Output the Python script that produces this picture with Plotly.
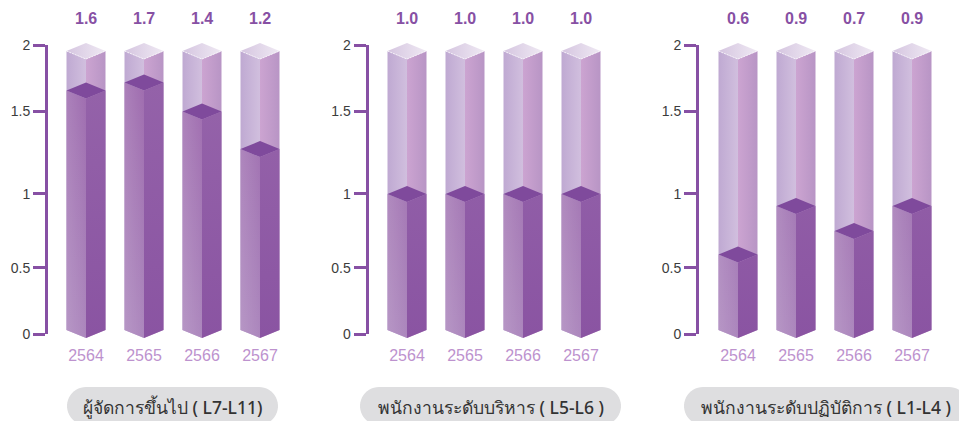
import plotly.graph_objects as go
import numpy as np

W, H = 959, 421
years = ["2564", "2565", "2566", "2567"]
panel_names = ["ผู้จัดการขึ้นไป ( L7-L11)", "พนักงานระดับบริหาร ( L5-L6 )", "พนักงานระดับปฏิบัติการ ( L1-L4 )"]
labels_a = ["1.6", "1.7", "1.4", "1.2"]
labels_b = ["1.0", "1.0", "1.0", "1.0"]
labels_c = ["0.6", "0.9", "0.7", "0.9"]
# heights as drawn against the axis (the picture's bars sit apart from their printed labels)
heights_a = [1.685, 1.74, 1.54, 1.28]
heights_b = [0.969, 0.969, 0.969, 0.969]
heights_c = [0.55, 0.885, 0.713, 0.885]
# the picture's axis is unevenly spaced: ticks sit at these heights
y_ticks = [0, 0.457, 0.969, 1.543, 2]
y_tick_text = ["0", "0.5", "1", "1.5", "2"]

PURPLE = "#8750A4"
GHOST_TOP = 1.958
BASE = 0.028
HALF_W = 19.5 / 58
DIA = 8 / 144.5
PX_PER_X = 58
PX_PER_Y = 144.5
PAD_BOTTOM, PAD_TOP = 12, 15  # room for the 3-D corners, which fills would otherwise clip
panels = [
    dict(labels=labels_a, h=heights_a, axis_px=48, first_px=86, pill=(67, 278)),
    dict(labels=labels_b, h=heights_b, axis_px=368.5, first_px=407, pill=(360, 621)),
    dict(labels=labels_c, h=heights_c, axis_px=699, first_px=738, pill=(684, 968)),
]


def mix(c1, c2, t):
    a = np.array([int(c1[i:i + 2], 16) for i in (1, 3, 5)])
    b = np.array([int(c2[i:i + 2], 16) for i in (1, 3, 5)])
    r = (a + (b - a) * t).round().astype(int)
    return f"rgb({r[0]},{r[1]},{r[2]})"


fig = go.Figure()


def poly(xs, ys, c0, c1, kind, ax):
    fig.add_trace(go.Scatter(
        x=xs + xs[:1], y=ys + ys[:1], mode="lines", fill="toself", line=dict(width=0),
        fillgradient=dict(type=kind, colorscale=[[0, c0], [1, c1]]),
        xaxis=ax[0], yaxis=ax[1], hoverinfo="skip", showlegend=False, cliponaxis=False))


for n, p in enumerate(panels):
    s = "" if n == 0 else str(n + 1)
    ax = ("x" + s, "y" + str(n + 4))
    # invisible trace that ties the visible axes together as a subplot
    fig.add_trace(go.Scatter(x=list(range(4)), y=p["h"], mode="markers", marker=dict(opacity=0),
                             xaxis="x" + s, yaxis="y" + s, hoverinfo="skip", showlegend=False))
    for i, v in enumerate(p["h"]):
        L, R = i - HALF_W, i + HALF_W
        t = GHOST_TOP
        # empty glass
        poly([L, i, i, L], [t, t - DIA, BASE - DIA, BASE], "#BFA9D2", "#D1BFDE", "horizontal", ax)
        poly([i, R, R, i], [t - DIA, t, BASE, BASE - DIA], "#CCA4D1", "#B895C5", "horizontal", ax)
        poly([L, i, R, i], [t, t + DIA, t, t - DIA], "#D5C5E0", "#EFE9F3", "horizontal", ax)
        fig.add_trace(go.Scatter(x=[L, i, R], y=[t, t - DIA, t], mode="lines",
                                 line=dict(color="rgba(255,255,255,0.65)", width=1, dash="2px,1px"),
                                 xaxis=ax[0], yaxis=ax[1], hoverinfo="skip", showlegend=False, cliponaxis=False))
        # filled part
        poly([L, i, i, L], [v, v - DIA, BASE - DIA, BASE],
             "#AC87BD", mix("#AC87BD", "#9F6DAF", min(v / 1.75, 1)), "vertical", ax)
        poly([L, i, i, L], [v, v - DIA, BASE - DIA, BASE],
             "rgba(255,255,255,0.13)", "rgba(255,255,255,0)", "horizontal", ax)
        poly([i, R, R, i], [v - DIA, v, BASE, BASE - DIA],
             "#8A54A2", mix("#8A54A2", "#9462A9", min(v / 1.5, 1)), "vertical", ax)
        fig.add_trace(go.Scatter(x=[L, i, R, i, L], y=[v, v + DIA, v, v - DIA, v], mode="lines", fill="toself",
                                 fillcolor="#7F4A9C", line=dict(width=0), xaxis=ax[0], yaxis=ax[1],
                                 hoverinfo="skip", showlegend=False, cliponaxis=False))

layout = dict(
    width=W, height=H, margin=dict(l=0, r=0, t=0, b=0, autoexpand=False), paper_bgcolor="white",
    plot_bgcolor="rgba(0,0,0,0)", showlegend=False, shapes=[], annotations=[])

for n, p in enumerate(panels):
    s = "" if n == 0 else str(n + 1)
    x_left = (p["axis_px"] - p["first_px"]) / PX_PER_X
    right_px = p["first_px"] + 3.5 * PX_PER_X
    layout["xaxis" + s] = dict(
        domain=[p["axis_px"] / W, right_px / W], range=[x_left, 3.5], tickvals=list(range(4)), ticktext=years,
        ticks="outside", ticklen=7, tickcolor="rgba(0,0,0,0)", showgrid=False, zeroline=False, showline=False,
        anchor="y" + s, tickfont=dict(family="Liberation Sans", size=16, color="#BD92CE"), fixedrange=True)
    layout["yaxis" + s] = dict(
        domain=[(H - 334) / H, (H - 45) / H], range=[0, 2], tickvals=y_ticks, ticktext=y_tick_text,
        ticks="outside", ticklen=12, tickwidth=3, tickcolor=PURPLE, showline=True, linewidth=3, linecolor=PURPLE,
        showgrid=False, zeroline=False, anchor="x" + s,
        tickfont=dict(family="Liberation Sans", size=14, color="#3C3C3C"), fixedrange=True)
    # hidden twin with the same scale and some extra room, carrying the columns
    layout["yaxis" + str(n + 4)] = dict(
        domain=[(H - 334 - PAD_BOTTOM) / H, (H - 45 + PAD_TOP) / H],
        range=[-PAD_BOTTOM / PX_PER_Y, 2 + PAD_TOP / PX_PER_Y],
        visible=False, anchor="x" + s, fixedrange=True)
    for i, lab in enumerate(p["labels"]):
        layout["annotations"].append(dict(
            x=i, y=1 - 18 / H, xref="x" + s, yref="paper", showarrow=False, text="<b>" + lab + "</b>",
            xanchor="center", yanchor="middle",
            font=dict(family="Liberation Sans", size=16, color=PURPLE)))
    a, b = p["pill"]
    top, bot = 387, 425
    r = (bot - top) / 2
    th = np.linspace(-np.pi / 2, np.pi / 2, 24)
    px = list(b - r + r * np.cos(th)) + list(a + r - r * np.cos(th[::-1]))
    py = list(top + r + r * np.sin(th)) + list(top + r + r * np.sin(th[::-1]))
    path = "M" + "L".join(f"{x / W:.5f},{1 - y / H:.5f}" for x, y in zip(px, py)) + "Z"
    layout["shapes"].append(dict(type="path", path=path, xref="paper", yref="paper",
                                 fillcolor="#DEDEE0", line=dict(width=0), layer="below"))
    layout["annotations"].append(dict(
        x=(a + b) / 2 / W, y=1 - 407 / H, xref="paper", yref="paper", showarrow=False,
        xanchor="center", yanchor="middle",
        text=panel_names[n], font=dict(family="Noto Sans, Liberation Sans", size=17.5, color="#333333", weight=500)))

fig.update_layout(**layout)
fig.write_html("out.html", config=dict(displayModeBar=False),
               post_script="document.body.style.margin='0';document.body.style.overflow='hidden';")
